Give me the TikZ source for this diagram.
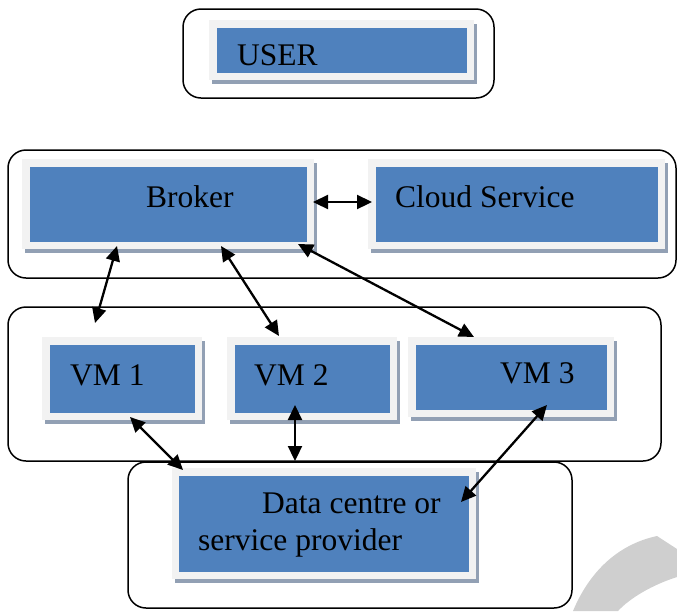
\documentclass[tikz,border=0pt]{standalone}
\usepackage{fontspec}
\setmainfont{Liberation Serif}
\usetikzlibrary{arrows.meta,backgrounds}
\definecolor{boxblue}{RGB}{79,129,189}
\definecolor{framegray}{RGB}{242,242,242}
\definecolor{shadegray}{RGB}{146,160,180}
\definecolor{wmgray}{RGB}{207,207,207}
\tikzset{
 panel/.style={fill=boxblue, draw=framegray, line width=7.5pt, inner sep=0pt, outer sep=0pt},
 grp/.style={draw=black, line width=1.5pt, rounded corners=18pt},
 lbl/.style={anchor=base west, inner sep=0pt, font=\fontsize{31.5}{35}\selectfont},
 link/.style={line width=2.3pt, {Triangle[length=15pt,width=14pt]}-{Triangle[length=15pt,width=14pt]}}
}
\newcommand\boxshade[1]{\fill[shadegray] ([shift={(-0.75,0.25)}]#1.north west) rectangle ([shift={(6.75,7.75)}]#1.south east);}
\begin{document}
\begin{tikzpicture}[x=1pt,y=-1pt]
\useasboundingbox (0,0) rectangle (677,611);
% watermark arc
\fill[wmgray] (573,611) .. controls (588,575) and (615,545) .. (657,536) -- (677,549) -- (677,577) .. controls (652,585) and (630,598) .. (618,611) -- cycle;
% group frames
\draw[grp] (183,9) rectangle (494,98);
\draw[grp] (8,150) rectangle (676,278);
\draw[grp] (8,307) rectangle (661,461);
\draw[grp] (128,462) rectangle (572,608);
% panels
\node[panel, minimum width=257.5pt, minimum height=52.5pt] (user) at (341.5,50) {};
\node[panel, minimum width=284.5pt, minimum height=82.5pt] (broker) at (168,204) {};
\node[panel, minimum width=289.5pt, minimum height=82.5pt] (cloud) at (516.5,204) {};
\node[panel, minimum width=152.5pt, minimum height=75.5pt] (vm1) at (122,378.5) {};
\node[panel, minimum width=162.5pt, minimum height=75.5pt] (vm2) at (312,378.5) {};
\node[panel, minimum width=198.5pt, minimum height=72.5pt] (vm3) at (511,377) {};
\node[panel, minimum width=297pt, minimum height=103.5pt] (dc) at (323.75,523.5) {};
\begin{scope}[on background layer]
\boxshade{user}
\boxshade{broker}
\boxshade{cloud}
\boxshade{vm1}
\boxshade{vm2}
\boxshade{vm3}
\boxshade{dc}
\end{scope}
% labels
\node[lbl] (userT) at (237,65) {USER};
\node[lbl] (brokerT) at (146,207) {Broker};
\node[lbl] (cloudT) at (395,207) {Cloud Service};
\node[lbl] (vm1T) at (70,385) {VM 1};
\node[lbl] (vm2T) at (254,385) {VM 2};
\node[lbl] (vm3T) at (500,383) {VM 3};
\node[lbl] (dcT1) at (262,513) {Data centre or};
\node[lbl] (dcT2) at (198,550) {service provider};
% connector ends
\coordinate (bc1) at (313,202); \coordinate (bc2) at (372,202);
\coordinate (b1) at (117,246); \coordinate (v1t) at (95,323);
\coordinate (b2) at (221,246); \coordinate (v2t) at (279,336);
\coordinate (b3) at (298,244); \coordinate (v3t) at (474,337);
\coordinate (v1b) at (130,417); \coordinate (d1) at (183,470);
\coordinate (v2b) at (295,405); \coordinate (d2) at (295,461);
\coordinate (v3b) at (547,405); \coordinate (d3) at (461,502);
\draw[link] (bc1) -- (bc2);
\draw[link] (b1) -- (v1t);
\draw[link] (b2) -- (v2t);
\draw[link] (b3) -- (v3t);
\draw[link] (v1b) -- (d1);
\draw[link] (v2b) -- (d2);
\draw[link] (v3b) -- (d3);
\end{tikzpicture}
\end{document}
